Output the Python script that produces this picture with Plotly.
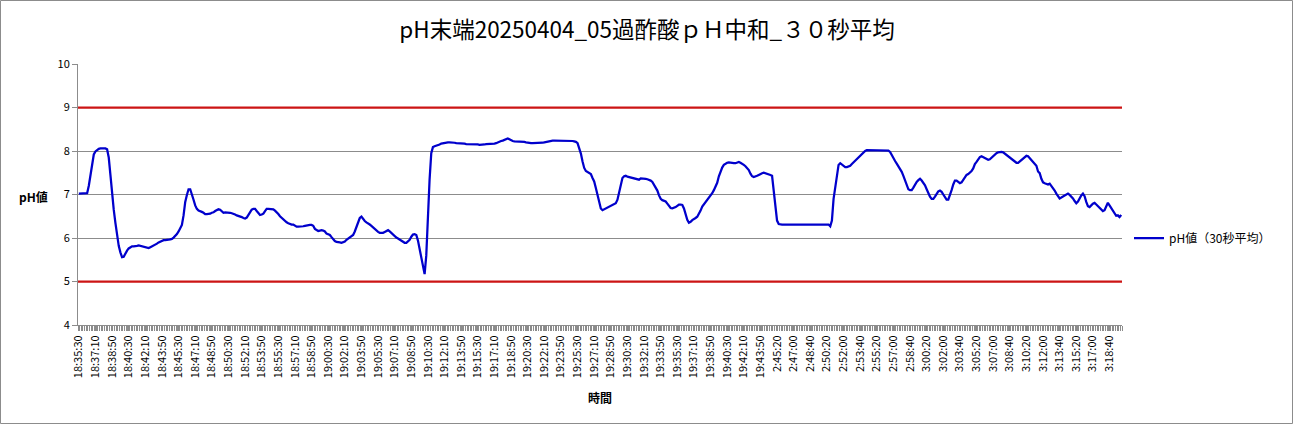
import plotly.graph_objects as go

TITLE = "pH末端20250404_05過酢酸ｐＨ中和_３０秒平均"
SERIES_NAME = "pH値（30秒平均）"
Y_TITLE = "pH値"
X_TITLE = "時間"
LIMIT_HIGH = 9
LIMIT_LOW = 5

TICK_LABELS = [
    "18:35:30", "18:37:10", "18:38:50", "18:40:30", "18:42:10", "18:43:50", "18:45:30",
    "18:47:10", "18:48:50", "18:50:30", "18:52:10", "18:53:50", "18:55:30", "18:57:10",
    "18:58:50", "19:00:30", "19:02:10", "19:03:50", "19:05:30", "19:07:10", "19:08:50",
    "19:10:30", "19:12:10", "19:13:50", "19:15:30", "19:17:10", "19:18:50", "19:20:30",
    "19:22:10", "19:23:50", "19:25:30", "19:27:10", "19:28:50", "19:30:30", "19:32:10",
    "19:33:50", "19:35:30", "19:37:10", "19:38:50", "19:40:30", "19:42:10", "19:43:50",
    "2:45:20", "2:47:00", "2:48:40", "2:50:20", "2:52:00", "2:53:40", "2:55:20",
    "2:57:00", "2:58:40", "3:00:20", "3:02:00", "3:03:40", "3:05:20", "3:07:00",
    "3:08:40", "3:10:20", "3:12:00", "3:13:40", "3:15:20", "3:17:00", "3:18:40",
]

PH_VALUES = [
    7.02, 7.02, 7.02, 7.02, 7.02, 7.03, 7.2, 7.45, 7.65, 7.92,
    7.99, 8.03, 8.05, 8.06, 8.06, 8.06, 8.06, 8.04, 7.85, 7.45,
    7.0, 6.65, 6.35, 6.03, 5.82, 5.67, 5.56, 5.57, 5.65, 5.71,
    5.76, 5.79, 5.81, 5.81, 5.81, 5.82, 5.83, 5.82, 5.81, 5.80,
    5.78, 5.77, 5.77, 5.79, 5.81, 5.82, 5.84, 5.87, 5.9, 5.92,
    5.94, 5.95, 5.95, 5.95, 5.96, 5.97, 5.98, 6.01, 6.04, 6.09,
    6.15, 6.21, 6.3, 6.52, 6.83, 6.99, 7.12, 7.12, 7.02, 6.88,
    6.75, 6.67, 6.63, 6.62, 6.6, 6.58, 6.55, 6.55, 6.55, 6.56,
    6.58, 6.59, 6.62, 6.65, 6.66, 6.65, 6.62, 6.58, 6.59, 6.59,
    6.58, 6.58, 6.57, 6.56, 6.54, 6.52, 6.51, 6.5, 6.48, 6.46,
    6.45, 6.47, 6.54, 6.6, 6.65, 6.67, 6.67, 6.62, 6.57, 6.53,
    6.54, 6.56, 6.62, 6.67, 6.67, 6.67, 6.67, 6.66, 6.63, 6.6,
    6.55, 6.5, 6.46, 6.42, 6.39, 6.36, 6.34, 6.32, 6.31, 6.31,
    6.28, 6.26, 6.26, 6.26, 6.27, 6.27, 6.28, 6.29, 6.3, 6.3,
    6.3, 6.28, 6.21, 6.18, 6.16, 6.17, 6.18, 6.17, 6.15, 6.1,
    6.08, 6.07, 6.02, 5.97, 5.93, 5.91, 5.91, 5.9, 5.89, 5.9,
    5.92, 5.96, 5.99, 6.01, 6.03, 6.07, 6.15, 6.26, 6.38, 6.46,
    6.49, 6.43, 6.39, 6.36, 6.34, 6.31, 6.28, 6.24, 6.21, 6.17,
    6.14, 6.12, 6.12, 6.12, 6.14, 6.16, 6.18, 6.15, 6.11, 6.07,
    6.03, 6.01, 5.99, 5.96, 5.93, 5.9, 5.89, 5.89, 5.92, 5.96,
    6.03, 6.08, 6.09, 6.07, 5.94, 5.75, 5.55, 5.3, 5.17, 5.6,
    6.6, 7.35, 7.95, 8.09, 8.11, 8.12, 8.14, 8.15, 8.17, 8.18,
    8.19, 8.2, 8.2, 8.2, 8.2, 8.2, 8.19, 8.18, 8.18, 8.18,
    8.18, 8.17, 8.17, 8.16, 8.16, 8.16, 8.15, 8.15, 8.15, 8.15,
    8.15, 8.14, 8.14, 8.15, 8.15, 8.16, 8.16, 8.16, 8.16, 8.17,
    8.17, 8.18, 8.2, 8.21, 8.23, 8.24, 8.26, 8.27, 8.29, 8.27,
    8.24, 8.23, 8.22, 8.22, 8.22, 8.22, 8.21, 8.21, 8.21, 8.2,
    8.19, 8.19, 8.18, 8.18, 8.18, 8.18, 8.18, 8.18, 8.19, 8.19,
    8.2, 8.21, 8.22, 8.23, 8.24, 8.24, 8.24, 8.24, 8.24, 8.24,
    8.24, 8.24, 8.24, 8.24, 8.24, 8.24, 8.24, 8.23, 8.22, 8.21,
    8.18, 8.08, 7.94, 7.76, 7.61, 7.54, 7.51, 7.49, 7.47, 7.38,
    7.3, 7.15, 7.0, 6.82, 6.68, 6.64, 6.66, 6.68, 6.7, 6.72,
    6.74, 6.77, 6.79, 6.8, 6.88, 7.05, 7.25, 7.38, 7.42, 7.43,
    7.41, 7.4, 7.4, 7.39, 7.37, 7.36, 7.35, 7.34, 7.37, 7.37,
    7.37, 7.36, 7.35, 7.34, 7.32, 7.29, 7.23, 7.16, 7.09, 6.98,
    6.9, 6.87, 6.86, 6.84, 6.79, 6.73, 6.69, 6.68, 6.69, 6.71,
    6.74, 6.77, 6.77, 6.76, 6.68, 6.53, 6.42, 6.35, 6.37, 6.41,
    6.43, 6.46, 6.49, 6.55, 6.63, 6.72, 6.77, 6.82, 6.88, 6.94,
    6.99, 7.03, 7.1, 7.17, 7.27, 7.42, 7.53, 7.62, 7.68, 7.71,
    7.73, 7.74, 7.73, 7.72, 7.72, 7.72, 7.74, 7.75, 7.73, 7.71,
    7.68, 7.65, 7.61, 7.56, 7.48, 7.42, 7.4, 7.41, 7.43, 7.45,
    7.48, 7.49, 7.5, 7.49, 7.47, 7.46, 7.45, 7.43, 7.1, 6.67,
    6.4, 6.32, 6.31, 6.31, 6.31, 6.31, 6.31, 6.31, 6.31, 6.31,
    6.31, 6.31, 6.31, 6.31, 6.31, 6.31, 6.31, 6.31, 6.31, 6.31,
    6.31, 6.31, 6.31, 6.31, 6.31, 6.31, 6.31, 6.31, 6.31, 6.31,
    6.31, 6.31, 6.27, 6.4, 6.9, 7.2, 7.5, 7.68, 7.72, 7.69,
    7.65, 7.63, 7.63, 7.64, 7.66, 7.7, 7.74, 7.77, 7.81, 7.85,
    7.9, 7.94, 7.98, 8.0, 8.02, 8.02, 8.02, 8.02, 8.02, 8.02,
    8.02, 8.02, 8.02, 8.02, 8.02, 8.02, 8.02, 8.01, 7.98, 7.9,
    7.83, 7.77, 7.71, 7.65, 7.59, 7.52, 7.43, 7.32, 7.2, 7.12,
    7.1, 7.1, 7.16, 7.23, 7.29, 7.33, 7.36, 7.32, 7.27, 7.21,
    7.12, 7.03, 6.95, 6.9, 6.9, 6.95, 7.01, 7.07, 7.09, 7.06,
    7.0, 6.94, 6.88, 6.88, 6.97, 7.1, 7.23, 7.32, 7.32, 7.29,
    7.26, 7.28, 7.33, 7.4, 7.45, 7.47, 7.5, 7.54, 7.6, 7.7,
    7.75, 7.82, 7.86, 7.88, 7.86, 7.83, 7.81, 7.8, 7.81, 7.85,
    7.88, 7.92, 7.95, 7.97, 7.98, 7.98, 7.97, 7.94, 7.91, 7.88,
    7.84, 7.8, 7.77, 7.75, 7.73, 7.73, 7.76, 7.8, 7.84, 7.87,
    7.89, 7.88, 7.84, 7.8, 7.74, 7.71, 7.66, 7.53, 7.49, 7.36,
    7.28, 7.26, 7.24, 7.23, 7.25, 7.2, 7.13, 7.09, 7.02, 6.95,
    6.91, 6.93, 6.95, 6.97, 7.0, 7.02, 6.99, 6.96, 6.91, 6.85,
    6.8, 6.84, 6.92, 6.98, 7.02, 6.96, 6.83, 6.73, 6.71, 6.76,
    6.79, 6.81, 6.77, 6.72, 6.68, 6.64, 6.62, 6.64, 6.74, 6.81,
    6.75, 6.69, 6.64, 6.56, 6.51, 6.52, 6.48, 6.53,
]

TICK_STEP = 10
n = len(PH_VALUES)
x_idx = list(range(n))
tick_vals = list(range(0, TICK_STEP * len(TICK_LABELS), TICK_STEP))

FONT = "Noto Sans CJK JP, Noto Sans, sans-serif"
GRID = "#8c8c8c"
AXIS = "#8c8c8c"

fig = go.Figure()
fig.add_trace(go.Scatter(
    x=x_idx, y=PH_VALUES, mode="lines", name=SERIES_NAME,
    line=dict(color="#0000CC", width=2.25), showlegend=True,
))

W, H = 1294, 424
ml, mr, mt, mb = 78, 172, 64, 99
pw, ph = W - ml - mr, H - mt - mb

for lv in (LIMIT_HIGH, LIMIT_LOW):
    fig.add_shape(type="line", xref="paper", yref="y", x0=0, x1=1, y0=lv, y1=lv,
                  line=dict(color="#CC1414", width=2.25), layer="above")

# chart area border
fig.add_shape(type="rect", xref="paper", yref="paper",
              x0=(0.5 - ml) / pw, x1=(W - 1.5 - ml) / pw,
              y0=-(H - 0.5 - (mt + ph)) / ph, y1=(mt + ph - 0.5) / ph,
              line=dict(color="#8c8c8c", width=1), layer="below")

fig.add_annotation(text="<b>" + Y_TITLE + "</b>", xref="paper", yref="paper",
                   x=(33 - ml) / pw, y=(mt + ph - 196) / ph, showarrow=False,
                   font=dict(family=FONT, size=12, color="#000"), xanchor="center", yanchor="middle")
fig.add_annotation(text="<b>" + X_TITLE + "</b>", xref="paper", yref="paper",
                   x=0.5, y=-(397 - (mt + ph)) / ph, showarrow=False,
                   font=dict(family=FONT, size=12, color="#000"), xanchor="center", yanchor="middle")

fig.update_layout(
    width=W, height=H,
    margin=dict(l=ml, r=mr, t=mt, b=mb, autoexpand=False),
    paper_bgcolor="white", plot_bgcolor="white",
    font=dict(family=FONT, size=11, color="#000"),
    title=dict(text=TITLE, x=(647 - ml) / pw, xref="paper", xanchor="center", y=1 - 30 / H,
               yref="container", yanchor="middle", font=dict(family=FONT, size=22.5, color="#000")),
    legend=dict(x=(1129 - ml) / pw, y=(mt + ph - 238) / ph, xanchor="left", yanchor="middle",
                font=dict(family=FONT, size=12, color="#000"), bgcolor="rgba(0,0,0,0)",
                itemwidth=30),
    showlegend=True,
)
fig.update_xaxes(
    range=[-0.5, n - 0.5], showgrid=False, zeroline=False,
    showline=True, linecolor=AXIS, linewidth=1,
    tickmode="array", tickvals=tick_vals, ticktext=TICK_LABELS, tickangle=-90,
    ticks="outside", ticklen=5, tickcolor=AXIS,
    tickfont=dict(family=FONT, size=11, color="#000"),
    minor=dict(tick0=-0.5, dtick=1, ticks="outside", ticklen=5, tickcolor=AXIS, showgrid=False),
)
fig.update_yaxes(
    range=[4, 10], dtick=1, tick0=4, showgrid=True, gridcolor=GRID, gridwidth=1,
    zeroline=False, showline=True, linecolor=AXIS, linewidth=1,
    ticks="outside", ticklen=5, tickcolor=AXIS,
    tickfont=dict(family=FONT, size=11, color="#000"),
)

fig.write_html("out.html", config={"displayModeBar": False},
               post_script="document.body.style.margin='0';document.body.style.overflow='hidden';")
